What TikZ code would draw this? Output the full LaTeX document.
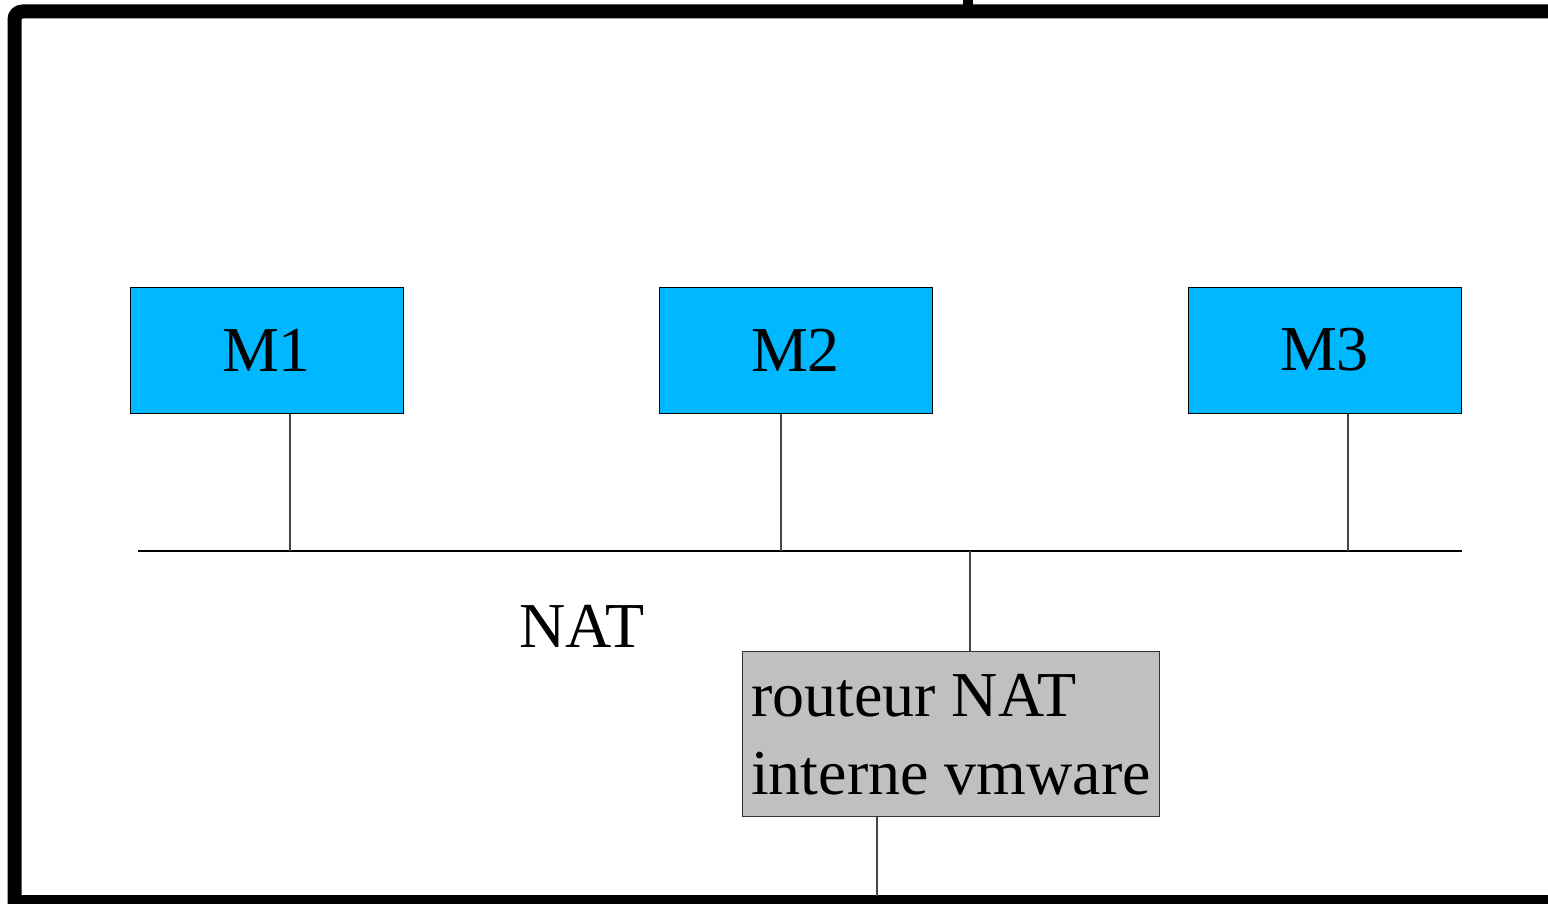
\documentclass[tikz,border=0pt]{standalone}
\usepackage{fontspec}
\setmainfont{Liberation Serif}
\definecolor{vmblue}{RGB}{0,184,255}
\definecolor{natgray}{RGB}{192,192,192}
\definecolor{wire}{RGB}{70,70,70}

\tikzset{
  machine/.style={draw=black, fill=vmblue, line width=0.5pt, inner sep=0pt,
    minimum width=136.5pt, minimum height=63pt, font=\fontsize{32}{38}\selectfont},
  routeur/.style={draw=black!80, fill=natgray, line width=0.5pt, inner xsep=4.5pt, inner ysep=0pt,
    minimum width=208pt, minimum height=82.5pt, align=left, font=\fontsize{32}{39}\selectfont},
  link/.style={line width=0.6pt, wire},
}

\begin{document}
\begin{tikzpicture}[x=0.5pt,y=-0.5pt]
\useasboundingbox (0,0) rectangle (1548,904);

% cadre de l'hote (coupe a droite et en bas)
\draw[line width=7pt] (1600,902) -- (14.5,902) [rounded corners=4pt] -- (14.5,11.5) -- (1600,11.5);
\draw[line width=5pt] (968,11.5) -- (968,-6);

% machines virtuelles
\node[machine] (m1) at (266.5,350) {M1};
\node[machine] (m2) at (795.5,350) {M2};
\node[machine] (m3) at (1324.5,350) {M3};

%\node[routeur] (router) at (951,733.5) {routeur NAT\\interne vmware};
\node[routeur] (router) at (951,733.5) {\rule{0pt}{22.5pt}routeur NAT\\interne vmware};

\node[font=\fontsize{32}{38}\selectfont] (natlabel) at (582,626) {NAT};

% reseau NAT
\coordinate (busw) at (138,551);
\coordinate (buse) at (1462,551);
\coordinate (tap1) at (290,551);
\coordinate (tap2) at (781,551);
\coordinate (tap3) at (1348,551);
\coordinate (tapr) at (970,551);
\coordinate (out) at (877,896);

\draw[line width=0.6pt] (busw) -- (buse);
\draw[link] (tap1 |- m1.south) -- (tap1);
\draw[link] (tap2 |- m2.south) -- (tap2);
\draw[link] (tap3 |- m3.south) -- (tap3);
\draw[link] (tapr) -- (tapr |- router.north);
\draw[link] (out |- router.south) -- (out);

\end{tikzpicture}
\end{document}
